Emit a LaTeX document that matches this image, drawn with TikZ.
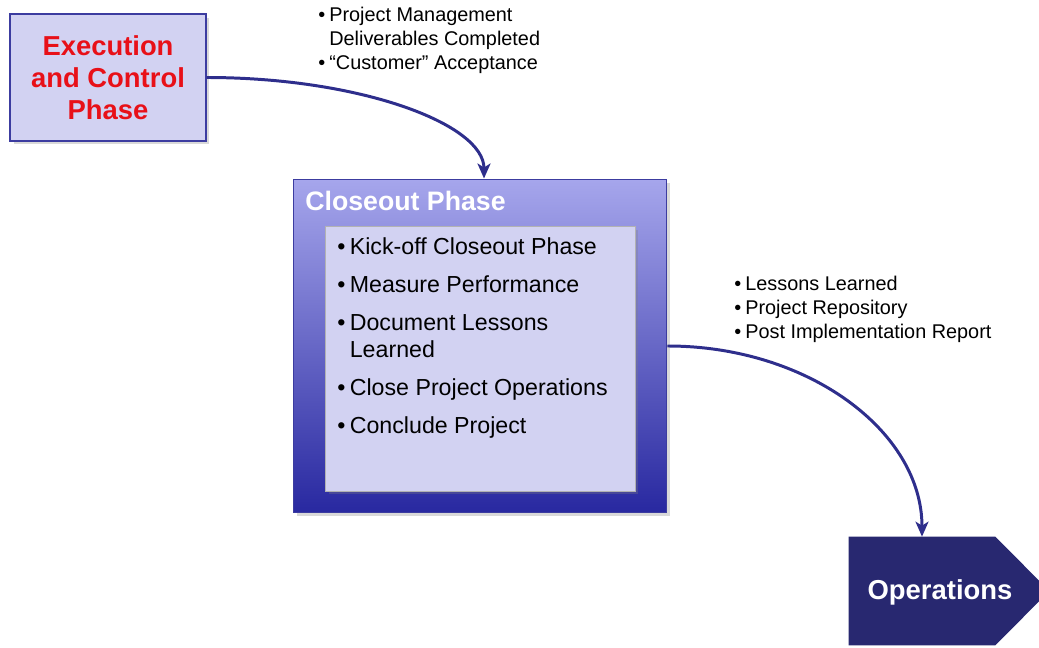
\documentclass[tikz,border=0pt]{standalone}
\usepackage{fontspec}
\setmainfont{Liberation Sans}
\usetikzlibrary{arrows.meta,shadows}

\definecolor{lavender}{RGB}{210,210,242}
\definecolor{boxedge}{RGB}{60,60,160}
\definecolor{closetop}{RGB}{166,166,236}
\definecolor{closebot}{RGB}{40,40,160}
\definecolor{opsnavy}{RGB}{40,40,112}
\definecolor{arrowblue}{RGB}{46,46,140}
\definecolor{phasered}{RGB}{232,16,24}

\newcommand{\bul}[1]{\makebox[#1][l]{•}}

\begin{document}
\begin{tikzpicture}[x=0.02cm,y=-0.02cm,
  shade/.style={drop shadow={shadow xshift=0.07cm,shadow yshift=-0.07cm,opacity=0.3}},
  flow/.style={draw=arrowblue,line width=1.7pt,-{Stealth[length=0.3cm,width=0.26cm,inset=0.08cm]}},
  notes/.style={anchor=north west,inner sep=0pt,align=left,font=\fontsize{11.3}{13.6}\selectfont}]
\useasboundingbox (0,0) rectangle (1039,648);

\node[draw=boxedge,line width=0.6pt,fill=lavender,shade,minimum width=3.92cm,minimum height=2.54cm,
  text=phasered,align=center,font=\bfseries\fontsize{15.6}{18.3}\selectfont] (exec) at (108,77.5)
  {Execution\\and Control\\Phase};

\node[draw=boxedge,line width=0.6pt,top color=closetop,bottom color=closebot,shade,
  minimum width=7.48cm,minimum height=6.68cm] (close) at (480,346) {};
\node[anchor=base west,inner sep=0pt,text=white,font=\bfseries\fontsize{15.2}{18}\selectfont] (title) at (305,211) {Closeout Phase};
\node[draw=gray!60,line width=0.4pt,fill=lavender,shade,minimum width=6.2cm,minimum height=5.3cm] (inner) at (480,358.5) {};
\node[anchor=north west,inner sep=0pt,align=left,font=\fontsize{13.2}{15.9}\selectfont] (steps) at (337,237)
  {\bul{0.25cm}Kick-off Closeout Phase\\[5.7pt]
   \bul{0.25cm}Measure Performance\\[5.7pt]
   \bul{0.25cm}Document Lessons\\
   \hspace{0.25cm}Learned\\[5.7pt]
   \bul{0.25cm}Close Project Operations\\[5.7pt]
   \bul{0.25cm}Conclude Project};

% operations arrow shape
\node[inner sep=0pt,minimum width=2.92cm,minimum height=2.16cm] (ops) at (922,591) {};
\fill[opsnavy] (ops.north west) -- (ops.north east) -- ([xshift=1.08cm]ops.east)
  -- (ops.south east) -- (ops.south west) -- cycle;
\node[text=white,font=\bfseries\fontsize{15.6}{18}\selectfont] (opslabel) at (940,592) {Operations};

\node[notes] (delivs) at (318,7)
  {\bul{0.22cm}Project Management\\
   \hspace{0.22cm}Deliverables Completed\\
   \bul{0.22cm}“Customer” Acceptance};
\node[notes] (outputs) at (734,276)
  {\bul{0.22cm}Lessons Learned\\
   \bul{0.22cm}Project Repository\\
   \bul{0.22cm}Post Implementation Report};

\path[flow] (exec.east) to[out=0,in=90,out distance=3.07cm,in distance=1.09cm] ([xshift=0.08cm]close.north);
\path[flow] (close.east) to[out=0,in=90,out distance=2.82cm,in distance=2.1cm] (ops.north);
\end{tikzpicture}
\end{document}
